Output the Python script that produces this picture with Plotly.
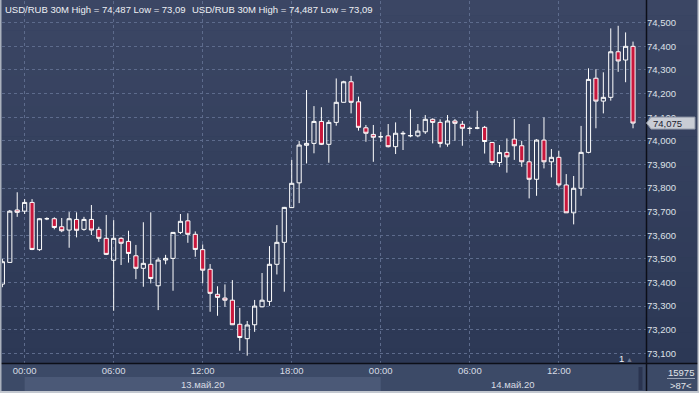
import plotly.graph_objects as go

# ---------------- data (USD/RUB, 30-minute candles) ----------------
open_ = [73.393, 73.485, 73.707, 73.702, 73.739, 73.539, 73.670, 73.670, 73.636, 73.622,
         73.667, 73.625, 73.667, 73.625, 73.587, 73.494, 73.587, 73.574, 73.513, 73.460,
         73.477, 73.386, 73.495, 73.502, 73.612, 73.661, 73.604, 73.539, 73.456, 73.350,
         73.334, 73.325, 73.223, 73.162, 73.221, 73.297, 73.320, 73.477, 73.570, 73.717,
         73.822, 73.981, 73.989, 74.082, 73.985, 74.078, 74.163, 74.250, 74.165, 74.055,
         74.027, 74.017, 74.021, 73.975, 74.032, 74.021, 74.021, 74.038, 74.091, 74.078,
         73.986, 74.084, 74.070, 74.053, 74.054, 74.057, 73.993, 73.908, 73.951, 74.007,
         73.979, 73.911, 73.837, 74.003, 73.911, 73.930, 73.813, 73.695, 73.799, 73.951,
         74.265, 74.168, 74.184, 74.377, 74.342, 74.400]
high = [73.500, 73.707, 73.782, 73.753, 73.753, 73.673, 73.676, 73.676, 73.673, 73.698,
        73.697, 73.678, 73.728, 73.636, 73.686, 73.664, 73.591, 73.619, 73.559, 73.655,
        73.697, 73.506, 73.517, 73.614, 73.690, 73.693, 73.616, 73.561, 73.478, 73.384,
        73.392, 73.410, 73.292, 73.237, 73.326, 73.440, 73.554, 73.643, 73.720, 73.919,
        73.999, 74.215, 74.147, 74.142, 74.088, 74.264, 74.254, 74.275, 74.187, 74.067,
        74.067, 74.038, 74.071, 74.078, 74.041, 74.133, 74.071, 74.109, 74.095, 74.091,
        74.109, 74.092, 74.084, 74.060, 74.127, 74.063, 73.995, 73.982, 74.010, 74.092,
        74.000, 74.071, 74.007, 74.099, 73.965, 73.958, 73.859, 73.851, 74.063, 74.307,
        74.303, 74.290, 74.476, 74.487, 74.459, 74.420]
low = [73.380, 73.485, 73.678, 73.690, 73.537, 73.534, 73.664, 73.625, 73.613, 73.547,
       73.591, 73.619, 73.601, 73.572, 73.516, 73.280, 73.474, 73.484, 73.414, 73.382,
       73.396, 73.283, 73.477, 73.365, 73.605, 73.568, 73.509, 73.397, 73.276, 73.259,
       73.297, 73.220, 73.111, 73.090, 73.191, 73.295, 73.301, 73.434, 73.361, 73.717,
       73.736, 73.904, 73.947, 73.982, 73.907, 74.064, 74.163, 74.116, 74.043, 73.996,
       73.911, 73.996, 73.972, 73.944, 73.961, 74.015, 74.015, 74.029, 73.989, 73.972,
       73.975, 74.000, 73.979, 74.029, 74.049, 73.946, 73.897, 73.890, 73.865, 73.919,
       73.890, 73.756, 73.767, 73.883, 73.845, 73.805, 73.695, 73.646, 73.767, 73.947,
       74.053, 74.116, 74.170, 74.292, 74.248, 74.053]
close = [73.488, 73.702, 73.697, 73.739, 73.540, 73.670, 73.670, 73.633, 73.619, 73.670,
         73.621, 73.667, 73.622, 73.587, 73.519, 73.587, 73.566, 73.523, 73.460, 73.481,
         73.417, 73.495, 73.502, 73.612, 73.659, 73.604, 73.540, 73.452, 73.354, 73.337,
         73.325, 73.221, 73.167, 73.220, 73.300, 73.325, 73.477, 73.570, 73.718, 73.820,
         73.982, 73.989, 74.082, 73.985, 74.078, 74.163, 74.250, 74.163, 74.057, 74.032,
         74.015, 74.017, 73.975, 74.032, 74.030, 74.022, 74.041, 74.091, 74.078, 73.989,
         74.084, 74.074, 74.053, 74.052, 74.054, 73.997, 73.908, 73.950, 73.932, 73.979,
         73.911, 73.837, 74.003, 73.911, 73.930, 73.813, 73.695, 73.799, 73.951, 74.260,
         74.168, 74.184, 74.377, 74.338, 74.400, 74.075]

time_tick_idx = [3, 15, 27, 39, 51, 63, 75]
time_tick_text = ["00:00", "06:00", "12:00", "18:00", "00:00", "06:00", "12:00"]
day_start_idx = [3, 51]
day_len = 48
day_labels = ["13.май.20", "14.май.20"]
price_ticks = [73.1, 73.2, 73.3, 73.4, 73.5, 73.6, 73.7, 73.8, 73.9,
               74.0, 74.1, 74.2, 74.3, 74.4, 74.5]
title_text = "USD/RUB 30M High = 74,487 Low = 73,09"
counter_top = "15975"
counter_bottom = ">87<"

# ---------------- layout geometry (pixels) ----------------
W, H = 699, 393
PL, PR, PT, PB = 2, 646, 1, 363          # plot area in pixels
X_RANGE = [-0.05, 86.75]
Y_RANGE = [73.059, 74.592]
FONT = "Liberation Sans, Arial, sans-serif"


def px(x):
    return (x - PL) / (PR - PL)


def py(y):
    return (PB - y) / (PB - PT)


x = list(range(len(open_)))

fig = go.Figure()
fig.add_trace(go.Candlestick(
    x=x, open=open_, high=high, low=low, close=close,
    increasing=dict(line=dict(color="#ffffff", width=1), fillcolor="rgba(0,0,0,0)"),
    decreasing=dict(line=dict(color="#ffffff", width=1), fillcolor="#c8173c"),
    whiskerwidth=0, hoverinfo="skip", showlegend=False,
))

shapes = []
# gradient background of the chart area
n_bands = 24
top_c = (59, 70, 100)
bot_c = (44, 56, 85)
for k in range(n_bands):
    t = k / (n_bands - 1)
    c = tuple(round(top_c[i] + (bot_c[i] - top_c[i]) * t) for i in range(3))
    y0 = k * PB / n_bands
    y1 = (k + 1) * PB / n_bands + 0.5
    shapes.append(dict(type="rect", xref="paper", yref="paper", layer="below",
                       x0=px(0), x1=px(W), y0=py(y1), y1=py(y0),
                       fillcolor="rgb(%d,%d,%d)" % c, line=dict(width=0)))
# x-axis band
shapes.append(dict(type="rect", xref="paper", yref="paper", layer="below",
                   x0=px(0), x1=px(W), y0=py(H), y1=py(PB),
                   fillcolor="#3c4a67", line=dict(width=0)))
# lighter band for the first day (lower row)
shapes.append(dict(type="rect", xref="x", yref="paper", layer="below",
                   x0=day_start_idx[0], x1=day_start_idx[0] + day_len,
                   y0=py(391), y1=py(377), fillcolor="#4b5977", line=dict(width=0)))
# scroll element
shapes.append(dict(type="rect", xref="paper", yref="paper", layer="above",
                   x0=px(638.5), x1=px(642.5), y0=py(390), y1=py(367),
                   fillcolor="#2a3450", line=dict(width=0)))
# separator lines
shapes.append(dict(type="line", xref="paper", yref="paper", layer="above",
                   x0=px(0), x1=px(W), y0=py(363.5), y1=py(363.5),
                   line=dict(color="#0c0f18", width=1.5)))
shapes.append(dict(type="line", xref="paper", yref="paper", layer="above",
                   x0=px(646.5), x1=px(646.5), y0=py(391), y1=py(0),
                   line=dict(color="#0c0f18", width=1.5)))
# line between counters
shapes.append(dict(type="line", xref="paper", yref="paper", layer="above",
                   x0=px(667), x1=px(695), y0=py(378.5), y1=py(378.5),
                   line=dict(color="#9aa3b5", width=1)))
# outer frame
shapes.append(dict(type="rect", xref="paper", yref="paper", layer="above",
                   x0=px(0), x1=px(1.5), y0=py(H), y1=py(0),
                   fillcolor="#aab1bd", line=dict(width=0)))
shapes.append(dict(type="rect", xref="paper", yref="paper", layer="above",
                   x0=px(0), x1=px(W), y0=py(H), y1=py(391),
                   fillcolor="#c3c8d0", line=dict(width=0)))
shapes.append(dict(type="rect", xref="paper", yref="paper", layer="above",
                   x0=px(697.5), x1=px(W), y0=py(H), y1=py(0),
                   fillcolor="#c3c8d0", line=dict(width=0)))
# last-price badge
last = close[-1]
hh = 6.0 / ((PB - PT) / (Y_RANGE[1] - Y_RANGE[0]))
bx0, bx1, bx2 = px(646.5), px(651), px(695)
shapes.append(dict(type="path", xref="paper", yref="y", layer="above",
                   path="M %f,%f L %f,%f L %f,%f L %f,%f L %f,%f Z" % (
                       bx0, last, bx1, last + hh, bx2, last + hh, bx2, last - hh, bx1, last - hh),
                   fillcolor="#c9cdd5", line=dict(color="#8d95a5", width=1)))

annotations = []
for xpix in (3, 190):
    annotations.append(dict(text=title_text, xref="paper", yref="paper",
                            x=px(xpix), y=py(9), xanchor="left", yanchor="middle",
                            showarrow=False, font=dict(family=FONT, size=9.5, color="#eef0f4")))
for s, lab in zip(day_start_idx, day_labels):
    a = max(s, X_RANGE[0])
    b = min(s + day_len, X_RANGE[1])
    annotations.append(dict(text=lab, xref="x", yref="paper", x=(a + b) / 2, y=py(384),
                            xanchor="center", yanchor="middle", showarrow=False,
                            font=dict(family=FONT, size=9.5, color="#d8dce4")))
annotations.append(dict(text=("%.3f" % last).replace(".", ","), xref="paper", yref="y",
                        x=px(651), y=last, xanchor="left", yanchor="middle", showarrow=False,
                        font=dict(family=FONT, size=9.5, color="#1c2230")))
annotations.append(dict(text=counter_top, xref="paper", yref="paper", x=px(681), y=py(372),
                        xanchor="center", yanchor="middle", showarrow=False,
                        font=dict(family=FONT, size=9.5, color="#e2e5ea")))
annotations.append(dict(text=counter_bottom, xref="paper", yref="paper", x=px(681), y=py(385),
                        xanchor="center", yanchor="middle", showarrow=False,
                        font=dict(family=FONT, size=9.5, color="#e2e5ea")))
annotations.append(dict(text="1", xref="paper", yref="paper", x=px(621), y=py(358),
                        xanchor="center", yanchor="middle", showarrow=False,
                        font=dict(family=FONT, size=9.5, color="#f0f2f6")))
annotations.append(dict(text="▲", xref="paper", yref="paper", x=px(629), y=py(359),
                        xanchor="center", yanchor="middle", showarrow=False,
                        font=dict(family=FONT, size=7, color="#6d7892")))

fig.update_layout(
    width=W, height=H,
    margin=dict(l=PL, r=W - PR, t=PT, b=H - PB),
    paper_bgcolor="#2f3c5a", plot_bgcolor="rgba(0,0,0,0)",
    separators=", ",
    boxgap=0.2, boxgroupgap=0.3,
    showlegend=False,
    font=dict(family=FONT, size=9.5, color="#d8dce4"),
    xaxis=dict(range=X_RANGE, rangeslider=dict(visible=False),
               tickvals=time_tick_idx, ticktext=time_tick_text,
               showgrid=True, gridcolor="#5d6b8c", griddash="3px,3px", gridwidth=1,
               zeroline=False, showline=False, ticks="",
               tickfont=dict(family=FONT, size=9.5, color="#d8dce4")),
    yaxis=dict(range=Y_RANGE, side="right", tickvals=price_ticks, tickformat=".3f",
               showgrid=True, gridcolor="#5d6b8c", griddash="3px,3px", gridwidth=1,
               zeroline=False, showline=False, ticks="",
               tickfont=dict(family=FONT, size=9.5, color="#dde0e7")),
    shapes=shapes, annotations=annotations,
)

fig.write_html("out.html")
